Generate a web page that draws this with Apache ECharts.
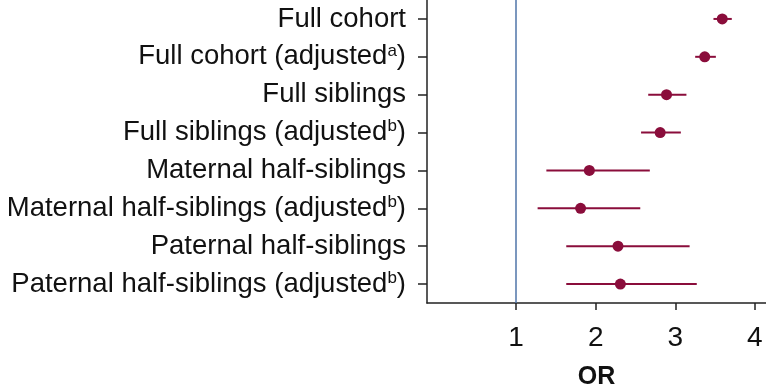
<!DOCTYPE html>
<html>
<head>
<meta charset="utf-8">
<script src="https://cdn.jsdelivr.net/npm/echarts@6/dist/echarts.min.js"></script>
<style>html,body{margin:0;padding:0;background:#fff}#c{width:766px;height:392px}</style>
</head>
<body>
<div id="c"></div>
<script>
var categories = [
  "Full cohort",
  "Full cohort (adjusted{sup|a})",
  "Full siblings",
  "Full siblings (adjusted{sup|b})",
  "Maternal half-siblings",
  "Maternal half-siblings (adjusted{sup|b})",
  "Paternal half-siblings",
  "Paternal half-siblings (adjusted{sup|b})"
];
var orValues = [3.59, 3.37, 2.89, 2.81, 1.92, 1.81, 2.28, 2.31];
var ciLower  = [3.48, 3.25, 2.66, 2.57, 1.38, 1.27, 1.63, 1.63];
var ciUpper  = [3.71, 3.51, 3.14, 3.07, 2.68, 2.56, 3.18, 3.27];
var xTicks = [1, 2, 3, 4];

var maroon = '#8a0d3b';
var chart = echarts.init(document.getElementById('c'), null, {renderer: 'canvas'});
var font = 'Liberation Sans, Arial, Helvetica, sans-serif';

var ciData = categories.map(function (c, i) { return [ciLower[i], ciUpper[i], i]; });
var ptData = categories.map(function (c, i) { return [orValues[i], i]; });

chart.setOption({
  animation: false,
  grid: {left: 427, top: 0, right: 0, bottom: 89, containLabel: false, outerBoundsMode: 'none'},
  xAxis: {
    type: 'value', min: -0.12, max: 4.14,
    name: 'OR', nameLocation: 'middle', nameGap: 62,
    nameTextStyle: {fontFamily: font, fontSize: 25, fontWeight: 'bold', color: '#111'},
    axisLine: {show: true, onZero: false, lineStyle: {color: '#222', width: 1.5}},
    axisTick: {show: true, length: 7, inside: false, customValues: xTicks, lineStyle: {color: '#222', width: 1.5}},
    axisLabel: {customValues: xTicks, margin: 21, fontFamily: font, fontSize: 28, color: '#111'},
    splitLine: {show: false}
  },
  yAxis: {
    type: 'category', data: categories, inverse: true,
    axisLine: {show: true, onZero: false, lineStyle: {color: '#222', width: 1.5}},
    axisTick: {show: true, alignWithLabel: true, length: 9, lineStyle: {color: '#222', width: 1.5}},
    axisLabel: {
      margin: 21, fontFamily: font, fontSize: 27.5, color: '#111', align: 'right',
      rich: {sup: {fontFamily: font, fontSize: 17, color: '#111', verticalAlign: 'top', padding: [0, 0, 12, 0]}}
    },
    splitLine: {show: false}
  },
  series: [
    {
      type: 'custom',
      data: ciData,
      encode: {x: [0, 1], y: 2},
      renderItem: function (params, api) {
        var a = api.coord([api.value(0), api.value(2)]);
        var b = api.coord([api.value(1), api.value(2)]);
        return {type: 'line', shape: {x1: a[0], y1: a[1], x2: b[0], y2: b[1]},
                style: {stroke: maroon, lineWidth: 2}};
      },
      z: 2
    },
    {
      type: 'scatter',
      data: ptData,
      symbol: 'circle', symbolSize: 11,
      itemStyle: {color: maroon, opacity: 1},
      z: 3,
      markLine: {
        silent: true, symbol: 'none', label: {show: false},
        lineStyle: {color: '#4f74a8', width: 1.5, type: 'solid'},
        data: [{xAxis: 1}]
      }
    }
  ]
});
</script>
</body>
</html>
